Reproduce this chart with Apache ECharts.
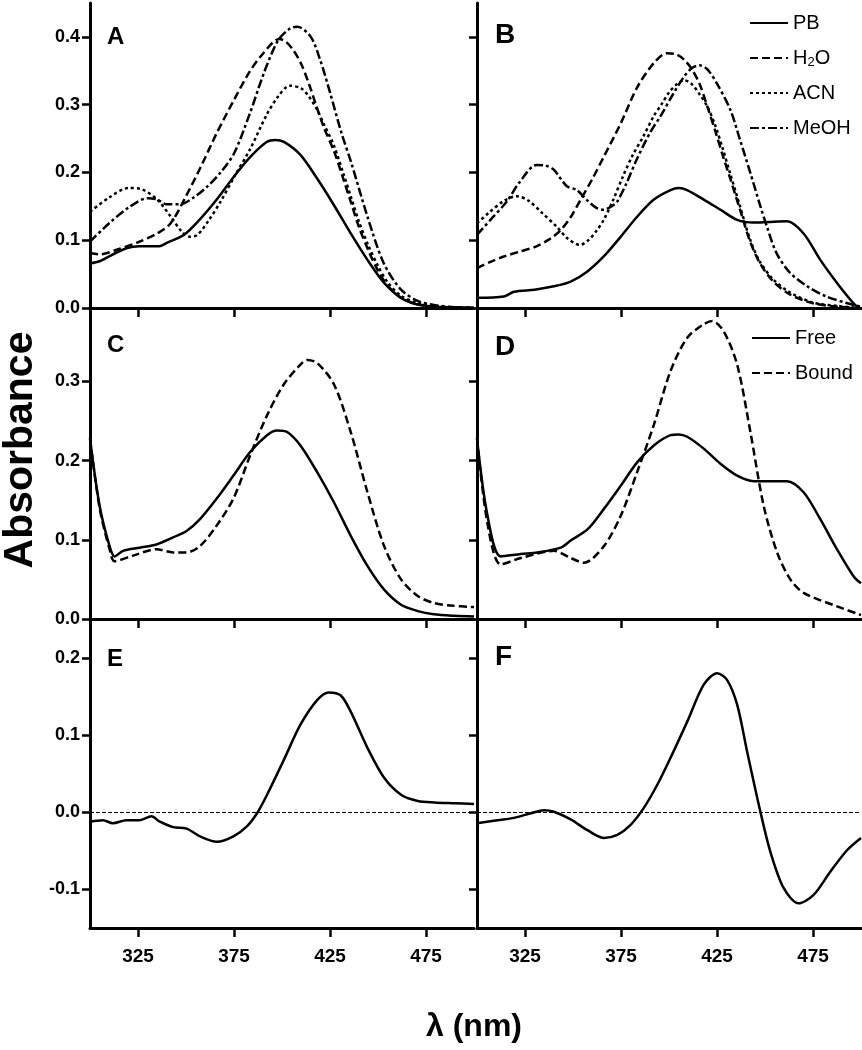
<!DOCTYPE html>
<html>
<head>
<meta charset="utf-8">
<script src="https://cdn.jsdelivr.net/npm/echarts@6/dist/echarts.min.js"></script>
<style>
html,body{margin:0;padding:0;background:#fff;}
#chart{width:862px;height:1050px;}
</style>
</head>
<body>
<div id="chart"></div>
<script>
// ---------- tick labels ----------
const xTicks = [325, 375, 425, 475];
const yTicksA = [0, 0.1, 0.2, 0.3, 0.4];
const yTicksC = [0, 0.1, 0.2, 0.3];
const yTicksE = [-0.1, 0, 0.1, 0.2];
const panelLetters = ['A', 'B', 'C', 'D', 'E', 'F'];
const solventNames = ['PB', 'H2O', 'ACN', 'MeOH'];
const stateNames = ['Free', 'Bound'];

// ---------- Panel A (wavelength nm / absorbance) ----------
const aPB_x = [300,305,317,326,336,340,349,357,366,375,383.5,392,396.5,401,409.6,418.3,427,435.8,444.5,453.2,462,470.6,479.3,490,500];
const aPB_y = [0.066,0.069,0.086,0.091,0.091,0.096,0.108,0.130,0.160,0.194,0.223,0.245,0.248,0.245,0.226,0.191,0.152,0.110,0.071,0.037,0.015,0.005,0.002,0.001,0.0];
const aH2O_x = [300,305,315,325,335,342,350,358,366,375,383,390,398.6,402,406,410,414,418,422,427,432,436,440,445,450,455,462,470,480,490,500];
const aH2O_y = [0.081,0.079,0.087,0.097,0.110,0.125,0.165,0.210,0.258,0.307,0.348,0.375,0.397,0.393,0.380,0.360,0.331,0.297,0.265,0.232,0.190,0.155,0.120,0.085,0.055,0.033,0.015,0.006,0.002,0.001,0.0];
const aACN_x = [300,310,320,327,335,342,348,352,356,362,368,375,383.5,392,398,404,410,414,418,422,427,432,436,440,445,450,455,462,470,480,490,500];
const aACN_y = [0.142,0.163,0.177,0.175,0.160,0.135,0.112,0.105,0.108,0.130,0.157,0.193,0.235,0.285,0.312,0.328,0.324,0.312,0.294,0.270,0.240,0.198,0.163,0.128,0.092,0.062,0.038,0.018,0.008,0.003,0.001,0.0];
const aMeOH_x = [300,310,320,330,335,340,347,354,361,368,375,383,391,398,404,408,415,420,425,431,436,444.5,453,462,471,480,490,500];
const aMeOH_y = [0.098,0.125,0.148,0.162,0.160,0.153,0.153,0.163,0.179,0.200,0.228,0.285,0.350,0.395,0.412,0.415,0.400,0.365,0.318,0.258,0.215,0.135,0.066,0.027,0.010,0.004,0.001,0.0];

// ---------- Panel B ----------
const bPB_x = [300,314,319.3,330,340,348.8,357.5,366,374.8,383.5,392.1,400.8,405.1,409.4,418.1,426.8,435.5,444.1,452,461.5,470.1,478.8,487.5,496.1,499];
const bPB_y = [0.015,0.017,0.024,0.027,0.032,0.039,0.054,0.076,0.105,0.135,0.160,0.174,0.177,0.174,0.160,0.145,0.130,0.126,0.127,0.128,0.110,0.071,0.037,0.007,0.0];
const bH2O_x = [300,307,314,322,331,338,343.6,349,354,360,366,374.8,383.5,392,399,404,408,412,416,420,424,428,432,437,442,447,454,463,475,488,500];
const bH2O_y = [0.059,0.068,0.076,0.083,0.091,0.102,0.115,0.135,0.160,0.190,0.223,0.272,0.326,0.361,0.376,0.374,0.366,0.352,0.330,0.297,0.262,0.225,0.190,0.145,0.100,0.068,0.040,0.020,0.007,0.002,0.0];
const bACN_x = [300,306,314,320.7,327,334,341.5,347,353.6,358,362,366,371,376,381,386.6,392,396,400,404,408,412,416,420,424,428,432,437,442,447,454,463,475,488,500];
const bACN_y = [0.125,0.140,0.158,0.165,0.158,0.140,0.120,0.103,0.093,0.100,0.113,0.130,0.160,0.194,0.225,0.253,0.283,0.300,0.318,0.330,0.336,0.330,0.315,0.297,0.270,0.235,0.197,0.150,0.103,0.070,0.043,0.023,0.008,0.003,0.0];
const bMeOH_x = [300,307,315.5,322,331,336,340,346.7,352,357,362,366,370,373,378,383,390,396,402,408,412,416,420,425,432,437,442.4,447.6,451,456,463,472,482,493,500];
const bMeOH_y = [0.108,0.130,0.157,0.185,0.211,0.210,0.204,0.180,0.174,0.160,0.148,0.145,0.150,0.157,0.185,0.218,0.258,0.285,0.315,0.342,0.354,0.358,0.352,0.331,0.292,0.248,0.199,0.150,0.120,0.081,0.052,0.032,0.017,0.007,0.002];

// ---------- Panel C ----------
const cFree_x = [300,305,310.2,312.8,317.2,325.9,334.6,343.3,350.3,357.3,366,374.7,383.5,392.2,397.4,402.7,409.6,418.4,427.1,435.8,444.5,453.2,462,470.7,479,490,500];
const cFree_y = [0.228,0.143,0.092,0.079,0.086,0.090,0.094,0.103,0.111,0.126,0.152,0.181,0.211,0.232,0.238,0.236,0.219,0.185,0.147,0.105,0.067,0.037,0.018,0.010,0.006,0.004,0.003];
const cBound_x = [300,305,310.2,312.8,322.4,334.6,343.3,350.3,357.3,366,374.7,383.5,392.2,400.9,409.6,413.1,418.4,427.1,435.8,444.5,453.2,462,470.7,479.4,488,500];
const cBound_y = [0.228,0.140,0.088,0.073,0.080,0.088,0.084,0.084,0.092,0.118,0.152,0.207,0.257,0.296,0.321,0.327,0.323,0.296,0.236,0.160,0.092,0.050,0.029,0.020,0.017,0.015];

// ---------- Panel D ----------
const dFree_x = [300,305.5,312.4,322.8,331.5,343.6,348.8,357.5,366.1,374.8,383.5,392.1,400.8,405.1,409.5,418.1,426.8,435.5,444.1,452,461.5,470.1,478.8,487.5,496.1,500];
const dFree_y = [0.228,0.130,0.079,0.082,0.084,0.090,0.099,0.113,0.139,0.168,0.198,0.219,0.232,0.233,0.230,0.215,0.196,0.181,0.174,0.174,0.174,0.160,0.126,0.088,0.054,0.045];
const dBound_x = [300,305.5,312.4,322.8,340.1,348.8,355.7,366.1,374.8,383.5,392.1,400.8,409.5,418.1,422.5,428.5,435.5,442.4,449.3,456.3,463.2,470.1,487.5,500];
const dBound_y = [0.228,0.120,0.069,0.077,0.086,0.077,0.071,0.092,0.130,0.186,0.245,0.313,0.355,0.372,0.376,0.363,0.321,0.236,0.143,0.084,0.050,0.033,0.016,0.005];

// ---------- Panel E / F (difference spectra) ----------
const eDiff_x = [300,306.7,311.9,318.9,325.9,332,336.4,343.3,350.3,357.3,366,374.7,381.7,387,392.2,400.9,409.6,418.3,424.4,430.6,435.8,444.5,453.2,462,470.7,479.4,490,500];
const eDiff_y = [-0.012,-0.010,-0.014,-0.010,-0.010,-0.005,-0.012,-0.019,-0.021,-0.031,-0.038,-0.031,-0.018,-0.001,0.023,0.068,0.114,0.146,0.156,0.152,0.131,0.084,0.045,0.023,0.015,0.013,0.012,0.011];
const fDiff_x = [300,310.7,319.3,328,334.9,340.1,348.8,357.5,366.1,373.1,380,386.9,393.9,400.8,409.5,418.1,425.1,430.3,435.5,440.7,447.6,452.8,459.7,467.5,475.3,484,492.7,500];
const fDiff_y = [-0.014,-0.010,-0.007,-0.001,0.003,0.001,-0.009,-0.023,-0.033,-0.029,-0.016,0.006,0.036,0.071,0.118,0.166,0.181,0.172,0.140,0.079,0.001,-0.051,-0.098,-0.118,-0.107,-0.077,-0.049,-0.033];

// ---------- build ----------
const FONT = '"Liberation Sans", Arial, Helvetica, sans-serif';
const BLACK = '#000';
const pairs = (xs, ys) => xs.map((x, i) => [x, ys[i]]);
const dashStyles = {
  PB: 'solid',
  H2O: [8, 4],
  ACN: [3, 3],
  MeOH: [9, 3, 3, 3],
  Free: 'solid',
  Bound: [8, 4]
};

const grids = [
  {left: 90, top: 3, width: 384, height: 305},
  {left: 477, top: 3, width: 384, height: 305},
  {left: 90, top: 310, width: 384, height: 309},
  {left: 477, top: 310, width: 384, height: 309},
  {left: 90, top: 620, width: 384, height: 308},
  {left: 477, top: 620, width: 384, height: 308}
];
const yRanges = [[0, 0.45, yTicksA], [0, 0.45, yTicksA], [0, 0.39, yTicksC], [0, 0.39, yTicksC], [-0.15, 0.25, yTicksE], [-0.15, 0.25, yTicksE]];

const xAxes = grids.map((g, i) => ({
  type: 'value', gridIndex: i, min: 300, max: 500,
  splitLine: {show: false},
  axisLine: {show: true, onZero: false, lineStyle: {color: BLACK, width: 3}},
  axisTick: {show: true, customValues: xTicks, length: 9, lineStyle: {color: BLACK, width: 2.5}},
  axisLabel: {show: i >= 4, customValues: xTicks, margin: 19, color: BLACK, fontSize: 19, fontWeight: 'bold', fontFamily: FONT}
}));
const yAxes = grids.map((g, i) => ({
  type: 'value', gridIndex: i, min: yRanges[i][0], max: yRanges[i][1],
  splitLine: {show: false},
  axisLine: {show: true, onZero: false, lineStyle: {color: BLACK, width: 3}},
  axisTick: {show: true, customValues: yRanges[i][2], length: 8, lineStyle: {color: BLACK, width: 2.5}},
  axisLabel: {show: i % 2 === 0, customValues: yRanges[i][2], margin: 10, color: BLACK, fontSize: 18, fontWeight: 'bold', fontFamily: FONT,
    formatter: v => v.toFixed(1)}
}));

function mk(name, idx, xs, ys, extra) {
  return Object.assign({
    name: name, type: 'line', xAxisIndex: idx, yAxisIndex: idx,
    data: pairs(xs, ys), showSymbol: false, symbol: 'none', smooth: 0.3,
    lineStyle: {color: BLACK, width: 2.5, type: dashStyles[name] || 'solid'},
    itemStyle: {color: BLACK}, silent: true
  }, extra || {});
}
const zeroLine = {
  silent: true, symbol: 'none', label: {show: false}, animation: false,
  lineStyle: {color: BLACK, type: [4, 2], width: 1.2},
  data: [{yAxis: 0}]
};

const series = [
  mk('PB', 0, aPB_x, aPB_y), mk('H2O', 0, aH2O_x, aH2O_y), mk('ACN', 0, aACN_x, aACN_y), mk('MeOH', 0, aMeOH_x, aMeOH_y),
  mk('PB', 1, bPB_x, bPB_y), mk('H2O', 1, bH2O_x, bH2O_y), mk('ACN', 1, bACN_x, bACN_y), mk('MeOH', 1, bMeOH_x, bMeOH_y),
  mk('Free', 2, cFree_x, cFree_y), mk('Bound', 2, cBound_x, cBound_y),
  mk('Free', 3, dFree_x, dFree_y), mk('Bound', 3, dBound_x, dBound_y),
  mk('E', 4, eDiff_x, eDiff_y, {markLine: zeroLine}),
  mk('F', 5, fDiff_x, fDiff_y, {markLine: zeroLine})
];

const legendText = {
  color: BLACK, fontSize: 20, fontFamily: FONT, lineHeight: 22,
  rich: {
    n: {fontSize: 20, fontFamily: FONT, color: BLACK, lineHeight: 22},
    s: {fontSize: 13, fontFamily: FONT, color: BLACK, lineHeight: 13, verticalAlign: 'bottom'}
  }
};
const legendFmt = name => name === 'H2O' ? '{n|H}{s|2}{n|O}' : name;
const legendCommon = {
  orient: 'vertical', itemWidth: 38, itemHeight: 14, itemGap: 13, padding: 0,
  selectedMode: false, textStyle: legendText,
  itemStyle: {color: 'rgba(0,0,0,0)', opacity: 0, borderWidth: 0}
};

const letterPos = [[107, 37, 24], [495, 35, 28], [107, 345, 24], [495, 347, 28], [107, 659, 24], [495, 657, 28]];
const graphics = panelLetters.map((t, i) => ({
  type: 'text', x: letterPos[i][0], y: letterPos[i][1], silent: true,
  style: {text: t, fill: BLACK, font: 'bold ' + letterPos[i][2] + 'px ' + FONT, textAlign: 'left', textVerticalAlign: 'middle'}
}));
graphics.push({
  type: 'text', x: 21, y: 450, rotation: Math.PI / 2, silent: true,
  style: {text: 'Absorbance', fill: BLACK, font: 'bold 41px ' + FONT, textAlign: 'center', textVerticalAlign: 'middle'}
});
graphics.push({
  type: 'text', x: 474, y: 1027, silent: true,
  style: {text: 'λ (nm)', fill: BLACK, font: 'bold 32px ' + FONT, textAlign: 'center', textVerticalAlign: 'middle'}
});

const chart = echarts.init(document.getElementById('chart'), null, {renderer: 'canvas'});
chart.setOption({
  animation: false,
  backgroundColor: '#fff',
  grid: grids,
  xAxis: xAxes,
  yAxis: yAxes,
  legend: [
    Object.assign({data: solventNames, left: 749, top: 12, formatter: legendFmt}, legendCommon),
    Object.assign({data: stateNames, left: 751, top: 327}, legendCommon)
  ],
  graphic: graphics,
  series: series
});
</script>
</body>
</html>
